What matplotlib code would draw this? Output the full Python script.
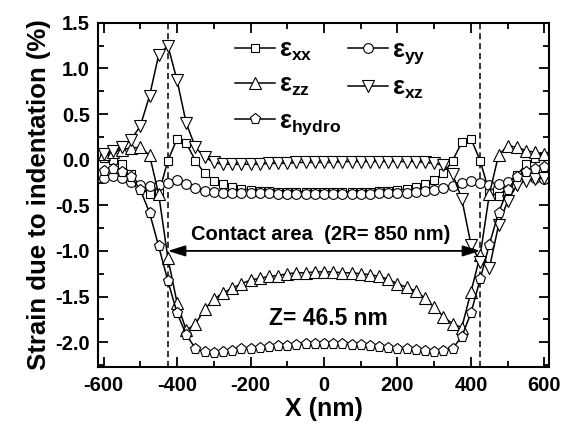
"""
Function to plot the strain profile due to indentation
"""

import matplotlib

matplotlib.use("Agg")
import matplotlib.pyplot as plt
import numpy as np
from matplotlib.ticker import MultipleLocator

# x positions (nm)
X_NM = list(range(-600, 601, 25))

EPS_XX = [
    0.02, 0.00, -0.05, -0.16, -0.30, -0.38, -0.37, -0.01, 0.23, 0.18,
    -0.01, -0.15, -0.23, -0.27, -0.30, -0.32, -0.33, -0.34, -0.34, -0.35,
    -0.35, -0.35, -0.35, -0.35, -0.35, -0.35, -0.35, -0.35, -0.35, -0.35,
    -0.34, -0.34, -0.33, -0.32, -0.30, -0.27, -0.22, -0.15, -0.01, 0.19,
    0.23, -0.01, -0.36, -0.40, -0.30, -0.17, -0.05, 0.02, 0.04,
]

EPS_YY = [
    -0.20, -0.18, -0.20, -0.24, -0.28, -0.29, -0.28, -0.25, -0.22, -0.27,
    -0.31, -0.34, -0.35, -0.36, -0.36, -0.37, -0.37, -0.37, -0.37, -0.38,
    -0.38, -0.38, -0.38, -0.38, -0.38, -0.38, -0.38, -0.38, -0.38, -0.38,
    -0.37, -0.37, -0.37, -0.36, -0.35, -0.34, -0.33, -0.31, -0.29, -0.25,
    -0.23, -0.25, -0.28, -0.27, -0.24, -0.21, -0.19, -0.20, -0.21,
]

EPS_ZZ = [
    0.06, 0.08, 0.11, 0.13, 0.135, 0.05, -0.38, -1.08, -1.57, -1.87,
    -1.80, -1.64, -1.53, -1.46, -1.41, -1.36, -1.32, -1.30, -1.28, -1.27,
    -1.25, -1.24, -1.24, -1.23, -1.23, -1.23, -1.24, -1.24, -1.25, -1.26,
    -1.28, -1.31, -1.36, -1.40, -1.44, -1.52, -1.62, -1.72, -1.80, -1.84,
    -1.45, -1.05, -0.38, 0.05, 0.155, 0.135, 0.10, 0.08, 0.06,
]

EPS_XZ = [
    0.065, 0.09, 0.135, 0.22, 0.37, 0.70, 1.15, 1.25, 0.87, 0.40,
    0.135, 0.03, -0.03, -0.05, -0.05, -0.05, -0.05, -0.05, -0.04, -0.04,
    -0.04, -0.03, -0.03, -0.03, -0.03, -0.03, -0.02, -0.02, -0.02, -0.02,
    -0.02, -0.02, -0.02, -0.02, -0.02, -0.03, -0.04, -0.06, -0.16, -0.43,
    -0.93, -1.12, -1.19, -0.72, -0.45, -0.28, -0.23, -0.21, -0.20,
]

EPS_HYDRO = [
    -0.12, -0.10, -0.13, -0.19, -0.33, -0.58, -0.95, -1.33, -1.68, -1.92,
    -2.07, -2.11, -2.12, -2.11, -2.10, -2.08, -2.07, -2.06, -2.05, -2.04,
    -2.04, -2.03, -2.02, -2.02, -2.02, -2.02, -2.02, -2.03, -2.03, -2.04,
    -2.05, -2.06, -2.07, -2.08, -2.09, -2.10, -2.11, -2.10, -2.07, -1.94,
    -1.68, -1.31, -0.93, -0.58, -0.33, -0.19, -0.13, -0.10, -0.08,
]

CONTACT_X = [-425, 425]

FONT = "Liberation Sans"


def plot_strain_profile() -> None:
    """
    Function to plot the strain components along X
    """

    plt.rcParams["font.family"] = [FONT, "DejaVu Sans"]
    plt.rcParams["font.weight"] = "bold"
    plt.rcParams["mathtext.default"] = "regular"
    plt.rcParams["axes.unicode_minus"] = False

    fig = plt.figure(figsize=(5.67, 4.32), dpi=100)
    ax = fig.add_axes([0.173, 0.150, 0.795, 0.797])

    x = np.array(X_NM)
    common = dict(color="black", lw=1.1, mfc="white", mec="black", mew=0.8)

    # the five strain curves
    h_xx, = ax.plot(x, EPS_XX, marker="s", ms=6, **common)
    h_yy, = ax.plot(x, EPS_YY, marker="o", ms=7, **common)
    h_zz, = ax.plot(x, EPS_ZZ, marker="^", ms=8.5, **common)
    h_xz, = ax.plot(x, EPS_XZ, marker="v", ms=8.5, **common)
    h_hy, = ax.plot(x, EPS_HYDRO, marker="p", ms=8, **common)

    # contact edges
    for xc in CONTACT_X:
        ax.axvline(xc, color="black", lw=1.1, ls=(0, (4, 2.5)), zorder=1)

    # contact area arrow
    ax.annotate(
        "",
        xy=(CONTACT_X[0], -1.0),
        xytext=(CONTACT_X[1], -1.0),
        arrowprops=dict(
            arrowstyle="<|-|>,head_length=0.7,head_width=0.22",
            color="black",
            lw=1.3,
            shrinkA=0,
            shrinkB=0,
            mutation_scale=15,
        ),
    )
    ax.text(-10, -0.82, "Contact area  (2R= 850 nm)", ha="center",
            va="center", fontsize=14.5, fontweight="bold")
    ax.text(12, -1.74, "Z= 46.5 nm", ha="center", va="center",
            fontsize=16.5, fontweight="bold")

    # legends, two columns placed by hand
    leg_prop = dict(family=FONT, weight="bold", size=18)
    leg_kw = dict(frameon=False, prop=leg_prop, handlelength=1.6,
                  handletextpad=0.15, borderpad=0, borderaxespad=0,
                  labelspacing=0.42, loc="upper left")
    leg1 = ax.legend(
        [h_xx, h_zz, h_hy],
        ["$ε_{xx}$", "$ε_{zz}$", "$ε_{hydro}$"],
        bbox_to_anchor=(0.304, 0.958), **leg_kw,
    )
    ax.add_artist(leg1)
    ax.legend(
        [h_yy, h_xz],
        ["$ε_{yy}$", "$ε_{xz}$"],
        bbox_to_anchor=(0.554, 0.958), **leg_kw,
    )

    # axes limits and ticks
    ax.set_xlim(-615, 612)
    ax.set_ylim(-2.275, 1.5)
    ax.xaxis.set_major_locator(MultipleLocator(200))
    ax.xaxis.set_minor_locator(MultipleLocator(100))
    ax.yaxis.set_major_locator(MultipleLocator(0.5))
    ax.yaxis.set_minor_locator(MultipleLocator(0.25))
    ax.yaxis.set_major_formatter(plt.FormatStrFormatter("%.1f"))
    ax.tick_params(which="both", direction="in", top=True, right=True,
                   width=1.3, labelsize=14.5)
    ax.tick_params(which="major", length=7, pad=6)
    ax.tick_params(which="minor", length=4)
    for lab in ax.get_xticklabels() + ax.get_yticklabels():
        lab.set_fontweight("bold")

    for sp in ax.spines.values():
        sp.set_linewidth(1.5)

    ax.set_xlabel("X (nm)", fontsize=18, fontweight="bold", labelpad=2)
    ax.set_ylabel("Strain due to indentation (%)", fontsize=18.5,
                  fontweight="bold", labelpad=3)

    fig.savefig("out.png", dpi=100)


if __name__ == "__main__":
    plot_strain_profile()
